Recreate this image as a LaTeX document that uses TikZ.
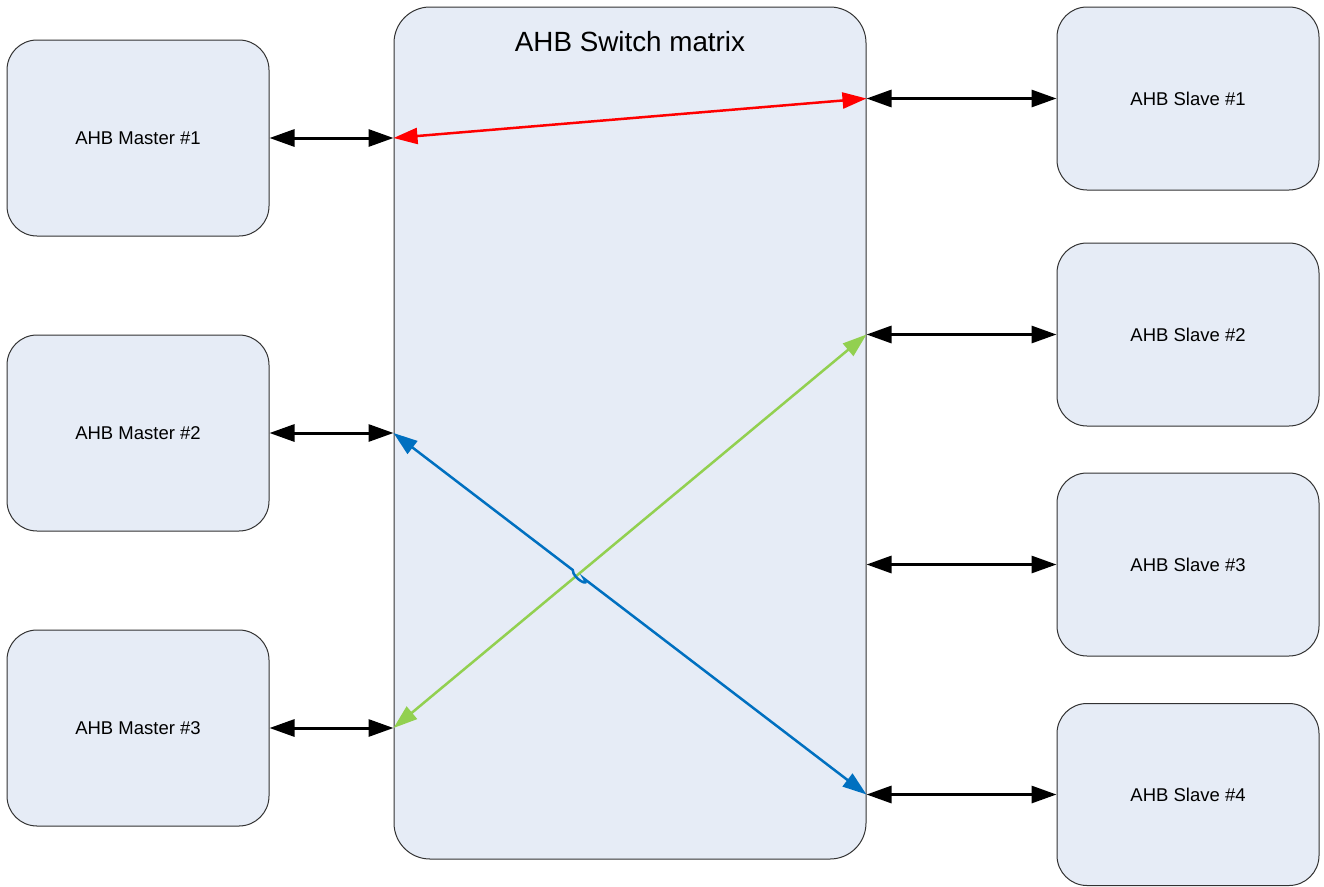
\documentclass[tikz,border=0pt]{standalone}
\usepackage{fontspec}
\setmainfont{Liberation Sans}
\usetikzlibrary{arrows.meta,calc}
\definecolor{boxfill}{RGB}{230,236,246}
\definecolor{boxline}{RGB}{50,50,50}
\definecolor{linkred}{RGB}{255,0,0}
\definecolor{linkblue}{RGB}{0,112,192}
\definecolor{linkgreen}{RGB}{146,208,80}
\tikzset{
  unit/.style={draw=boxline, line width=1pt, fill=boxfill, rounded corners=30pt,
    minimum width=262pt, inner sep=0pt, font=\fontsize{18.5}{22}\selectfont},
  busarrow/.style={line width=3pt, black,
    {Triangle[length=25pt,width=17pt]}-{Triangle[length=25pt,width=17pt]}},
  route/.style={line width=2.5pt,
    {Triangle[length=24pt,width=16pt]}-{Triangle[length=24pt,width=16pt]}},
}
\begin{document}
\begin{tikzpicture}[x=1pt,y=-1pt]
\useasboundingbox (0,0) rectangle (1324,886);

% switch matrix
\node[unit, rounded corners=36pt, minimum width=472pt, minimum height=852pt] (sw) at (630,433) {};
\node[font=\fontsize{27.8}{32}\selectfont] (title) at (630,42) {AHB Switch matrix};

% masters
\node[unit, minimum height=196pt] (m1) at (138,138) {AHB Master \#1};
\node[unit, minimum height=196pt] (m2) at (138,433) {AHB Master \#2};
\node[unit, minimum height=196pt] (m3) at (138,728) {AHB Master \#3};

% slaves
\node[unit, minimum height=183pt] (s1) at (1188,98.5) {AHB Slave \#1};
\node[unit, minimum height=183pt] (s2) at (1188,334.5) {AHB Slave \#2};
\node[unit, minimum height=183pt] (s3) at (1188,564.5) {AHB Slave \#3};
\node[unit, minimum height=182pt] (s4) at (1188,794.5) {AHB Slave \#4};

% ports on the matrix edges
\coordinate (p1) at (m1.east -| sw.west);
\coordinate (p2) at (m2.east -| sw.west);
\coordinate (p3) at (m3.east -| sw.west);
\coordinate (q1) at (s1.west -| sw.east);
\coordinate (q2) at (s2.west -| sw.east);
\coordinate (q3) at (s3.west -| sw.east);
\coordinate (q4) at (s4.west -| sw.east);

% bus connections
\draw[busarrow] (m1.east) -- (p1);
\draw[busarrow] (m2.east) -- (p2);
\draw[busarrow] (m3.east) -- (p3);
\draw[busarrow] (q1) -- (s1.west);
\draw[busarrow] (q2) -- (s2.west);
\draw[busarrow] (q3) -- (s3.west);
\draw[busarrow] (q4) -- (s4.west);

% internal routes
\draw[route, linkred] (p1) -- (q1);
\draw[route, linkgreen] (p3) -- (q2);
\coordinate (hopa) at ($(p2)!0.379!(q4)$);
\coordinate (hopb) at ($(p2)!0.403!(q4)$);
\draw[route, linkblue] (p2) -- (hopa) .. controls ([yshift=-9pt]hopa) and ([xshift=7pt,yshift=-9pt]hopb) .. (hopb) -- (q4);
\end{tikzpicture}
\end{document}
